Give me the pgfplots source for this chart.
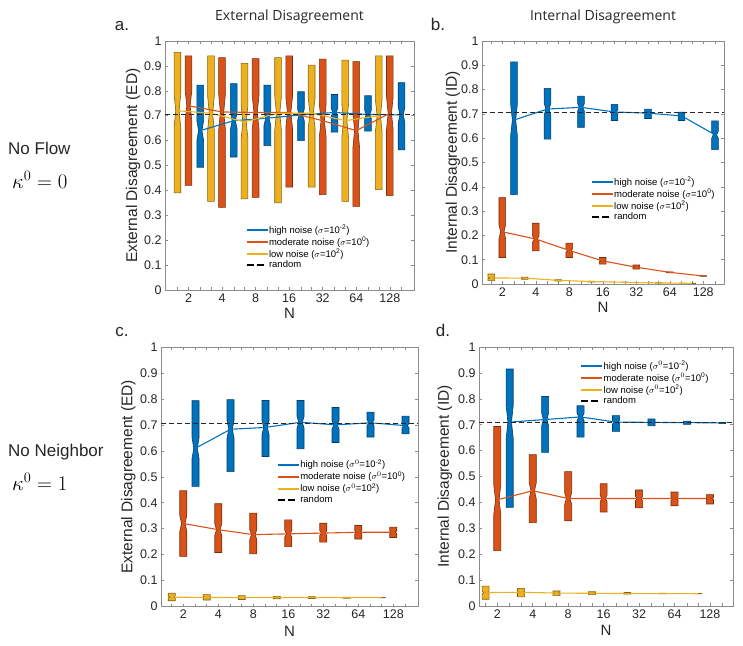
\documentclass[border=0pt]{standalone}
\usepackage{pgfplots}
\pgfplotsset{compat=1.18}
\usepackage{pgfplotstable}
\usepackage{fontspec}
\setmainfont{Liberation Sans}
\newfontfamily\titlefont{Open Sans}

\definecolor{mblue}{RGB}{0,114,189}
\definecolor{morange}{RGB}{217,83,25}
\definecolor{myellow}{RGB}{237,177,32}

\def\bw{0.1}
% notched box: color, x, q1, median, q3
\newcommand\nb[5]{%
 \pgfmathsetmacro\xa{#2-\bw}\pgfmathsetmacro\xb{#2+\bw}%
 \pgfmathsetmacro\xc{#2-0.5*\bw}\pgfmathsetmacro\xd{#2+0.5*\bw}%
 \pgfmathsetmacro\nlo{max(#3,#4-0.12*(#5-#3))}%
 \pgfmathsetmacro\nhi{min(#5,#4+0.12*(#5-#3))}%
 \edef\tmp{\noexpand\addplot[forget plot, fill=#1, draw=#1!55!black, line width=0.6pt] coordinates {(\xa,#3) (\xb,#3) (\xb,\nlo) (\xd,#4) (\xb,\nhi) (\xb,#5) (\xa,#5) (\xa,\nhi) (\xc,#4) (\xa,\nlo)} -- cycle;}%
 \tmp}
\newcommand\drawboxes[2]{%
 \pgfplotstablegetrowsof{#1}%
 \pgfmathtruncatemacro\nrows{\pgfplotsretval-1}%
 \pgfplotsforeachungrouped \r in {0,...,\nrows}{%
   \pgfplotstablegetelem{\r}{x}\of#1\let\vx\pgfplotsretval
   \pgfplotstablegetelem{\r}{q1}\of#1\let\vq\pgfplotsretval
   \pgfplotstablegetelem{\r}{med}\of#1\let\vm\pgfplotsretval
   \pgfplotstablegetelem{\r}{q3}\of#1\let\vt\pgfplotsretval
   \nb{#2}{\vx}{\vq}{\vm}{\vt}%
 }}

% ---------------- data: x q1 median q3 ----------------
\pgfplotstableread{
x q1 med q3
0.67 0.390 0.720 0.954
1.67 0.356 0.710 0.940
2.67 0.366 0.675 0.910
3.67 0.350 0.710 0.933
4.67 0.413 0.710 0.903
5.67 0.356 0.680 0.923
6.67 0.403 0.700 0.940
}\aY
\pgfplotstableread{
x q1 med q3
1 0.420 0.740 0.940
2 0.332 0.715 0.933
3 0.372 0.713 0.929
4 0.413 0.713 0.940
5 0.383 0.680 0.927
6 0.336 0.640 0.917
7 0.379 0.710 0.940
}\aO
\pgfplotstableread{
x q1 med q3
1.35 0.493 0.640 0.823
2.35 0.534 0.680 0.829
3.35 0.580 0.690 0.823
4.35 0.600 0.703 0.796
5.35 0.634 0.713 0.785
6.35 0.638 0.705 0.780
7.35 0.563 0.703 0.833
}\aB
\pgfplotstableread{
x q1 med q3
0.67 0.014 0.025 0.041
1.67 0.019 0.024 0.028
2.67 0.012 0.015 0.018
3.67 0.008 0.010 0.012
4.67 0.006 0.007 0.008
5.67 0.004 0.0045 0.005
6.67 0.002 0.0025 0.003
}\bY
\pgfplotstableread{
x q1 med q3
1 0.109 0.215 0.355
2 0.136 0.185 0.250
3 0.109 0.138 0.168
4 0.082 0.095 0.109
5 0.061 0.069 0.078
6 0.046 0.048 0.050
7 0.032 0.033 0.034
}\bO
\pgfplotstableread{
x q1 med q3
1.35 0.368 0.675 0.914
2.35 0.596 0.720 0.805
3.35 0.645 0.727 0.773
4.35 0.673 0.708 0.739
5.35 0.681 0.703 0.719
6.35 0.673 0.692 0.707
7.35 0.553 0.614 0.671
}\bB
\pgfplotstableread{
x q1 med q3
0.67 0.022 0.036 0.051
1.67 0.025 0.035 0.046
2.67 0.027 0.034 0.042
3.67 0.030 0.034 0.039
4.67 0.031 0.034 0.038
5.67 0.032 0.034 0.036
6.67 0.033 0.034 0.035
}\cY
\pgfplotstableread{
x q1 med q3
1 0.193 0.320 0.446
2 0.208 0.296 0.396
3 0.203 0.277 0.360
4 0.231 0.280 0.334
5 0.248 0.283 0.321
6 0.260 0.286 0.312
7 0.266 0.286 0.306
}\cO
\pgfplotstableread{
x q1 med q3
1.35 0.463 0.610 0.793
2.35 0.520 0.683 0.797
3.35 0.578 0.690 0.794
4.35 0.608 0.710 0.794
5.35 0.632 0.700 0.767
6.35 0.653 0.708 0.749
7.35 0.665 0.697 0.733
}\cB
\pgfplotstableread{
x q1 med q3
0.67 0.026 0.052 0.077
1.67 0.035 0.053 0.068
2.67 0.040 0.050 0.058
3.67 0.044 0.049 0.055
4.67 0.046 0.048 0.052
5.67 0.047 0.048 0.050
6.67 0.047 0.048 0.049
}\dY
\pgfplotstableread{
x q1 med q3
1 0.214 0.410 0.693
2 0.322 0.445 0.584
3 0.329 0.415 0.519
4 0.363 0.415 0.472
5 0.379 0.415 0.448
6 0.387 0.415 0.440
7 0.394 0.415 0.430
}\dO
\pgfplotstableread{
x q1 med q3
1.35 0.381 0.710 0.915
2.35 0.593 0.720 0.809
3.35 0.652 0.730 0.773
4.35 0.674 0.710 0.735
5.35 0.696 0.709 0.722
6.35 0.701 0.708 0.714
7.35 0.704 0.707 0.709
}\dB

\pgfplotsset{
  lblue/.style={mblue, line width=1.1pt},
  lorange/.style={morange, line width=1.1pt},
  lyellow/.style={myellow, line width=1.1pt},
  lrand/.style={black!85, line width=0.75pt, dash pattern=on 5pt off 3pt},
}
\pgfplotsset{panel/.style={
  scale only axis, ymin=0, ymax=1,
  ytick={0,0.1,0.2,0.3,0.4,0.5,0.6,0.7,0.8,0.9,1},
  xtick={1,2,3,4,5,6,7}, xticklabels={2,4,8,16,32,64,128},
  minor xtick={0.67,1.35,1.67,2.35,2.67,3.35,3.67,4.35,4.67,5.35,5.67,6.35,6.67,7.35},
  tick align=inside, major tick length=3pt, minor tick length=3pt,
  axis line style={black!45}, tick style={black!45, line width=0.5pt},
  ticklabel style={font=\fontsize{12.5}{13}\selectfont, text=black!85},
  /pgf/number format/assume math mode=true,
  xlabel={N},
  xlabel style={at={(axis description cs:0.5,-0.095)}, anchor=center, font=\fontsize{15}{15}\selectfont, text=black!85},
  ylabel style={anchor=center, font=\fontsize{15.5}{16}\selectfont, text=black!85},
  legend style={draw=none, fill=none, font=\fontsize{9.5}{10}\selectfont, anchor=north west, inner sep=0pt, row sep=-2pt},
  legend cell align=left,
}}

% legend entries with filled-bar images
\newcommand\legendset[1]{%
  \addlegendimage{legend image code/.code={\fill[mblue] (0pt,-0.7pt) rectangle (20pt,0.7pt);}}
  \addlegendentry{high noise ($\sigma#1$=10\textsuperscript{-2})}
  \addlegendimage{legend image code/.code={\fill[morange] (0pt,-0.7pt) rectangle (20pt,0.7pt);}}
  \addlegendentry{moderate noise ($\sigma#1$=10\textsuperscript{0})}
  \addlegendimage{legend image code/.code={\fill[myellow] (0pt,-0.7pt) rectangle (20pt,0.7pt);}}
  \addlegendentry{low noise ($\sigma#1$=10\textsuperscript{2})}
  \addlegendimage{legend image code/.code={\fill[black] (0pt,-0.5pt) rectangle (6pt,0.5pt) (10pt,-0.5pt) rectangle (16pt,0.5pt);}}
  \addlegendentry{random}}

\begin{document}
\begin{tikzpicture}
\useasboundingbox (0pt,0pt) rectangle (743pt,645pt);

% ---------- panel a ----------
\begin{axis}[panel, at={(165pt,355pt)}, anchor=south west, width=249pt, height=249pt,
  xmin=0.3, xmax=7.72, ylabel={External Disagreement (ED)},
  ylabel style={at={(axis description cs:-0.128,0.5)}},
  legend style={at={(0.327,0.27)}}]
\legendset{}
\drawboxes{\aY}{myellow}
\drawboxes{\aO}{morange}
\drawboxes{\aB}{mblue}
\addplot[lblue, forget plot] table[x=x,y=med]{\aB};
\addplot[lorange, forget plot] table[x=x,y=med]{\aO};
\addplot[lyellow, forget plot] table[x=x,y=med]{\aY};
\addplot[lrand, forget plot] coordinates {(0.3,0.7071) (7.72,0.7071)};
\end{axis}

% ---------- panel b ----------
\begin{axis}[panel, at={(482pt,361pt)}, anchor=south west, width=242pt, height=243pt,
  xmin=0.394, xmax=7.62, ylabel={Internal Disagreement (ID)},
  ylabel style={at={(axis description cs:-0.12,0.5)}},
  legend style={at={(0.453,0.45)}}]
\legendset{}
\drawboxes{\bY}{myellow}
\drawboxes{\bO}{morange}
\drawboxes{\bB}{mblue}
\addplot[lblue, forget plot] table[x=x,y=med]{\bB};
\addplot[lorange, forget plot] table[x=x,y=med]{\bO};
\addplot[lyellow, forget plot] table[x=x,y=med]{\bY};
\addplot[lrand, forget plot] coordinates {(0.394,0.7071) (7.62,0.7071)};
\end{axis}

% ---------- panel c ----------
\begin{axis}[panel, at={(161pt,38.5pt)}, anchor=south west, width=257pt, height=259.5pt,
  xmin=0.363, xmax=7.706, ylabel={External Disagreement (ED)},
  ylabel style={at={(axis description cs:-0.127,0.5)}},
  legend style={at={(0.454,0.575)}}]
\legendset{^0}
\drawboxes{\cY}{myellow}
\drawboxes{\cO}{morange}
\drawboxes{\cB}{mblue}
\addplot[lblue, forget plot] table[x=x,y=med]{\cB};
\addplot[lorange, forget plot] table[x=x,y=med]{\cO};
\addplot[lyellow, forget plot] table[x=x,y=med]{\cY};
\addplot[lrand, forget plot] coordinates {(0.363,0.7071) (7.706,0.7071)};
\end{axis}

% ---------- panel d ----------
\begin{axis}[panel, at={(479pt,39pt)}, anchor=south west, width=254pt, height=259pt,
  xmin=0.484, xmax=7.65, ylabel={Internal Disagreement (ID)},
  ylabel style={at={(axis description cs:-0.134,0.5)}},
  legend style={at={(0.402,0.955)}}]
\legendset{^0}
\drawboxes{\dY}{myellow}
\drawboxes{\dO}{morange}
\drawboxes{\dB}{mblue}
\addplot[lblue, forget plot] table[x=x,y=med]{\dB};
\addplot[lorange, forget plot] table[x=x,y=med]{\dO};
\addplot[lyellow, forget plot] table[x=x,y=med]{\dY};
\addplot[lrand, forget plot] coordinates {(0.484,0.7071) (7.65,0.7071)};
\end{axis}

% ---------- titles and labels ----------
\node[font=\titlefont\fontsize{14}{14}\selectfont, text=black!85] at (289.5pt,628pt) {External Disagreement};
\node[font=\titlefont\fontsize{14}{14}\selectfont, text=black!85] at (603pt,628pt) {Internal Disagreement};
\node[font=\fontsize{17}{17}\selectfont, text=black!85] at (122pt,619pt) {a.};
\node[font=\fontsize{17}{17}\selectfont, text=black!85] at (438pt,621pt) {b.};
\node[font=\fontsize{17}{17}\selectfont, text=black!85] at (122pt,313pt) {c.};
\node[font=\fontsize{17}{17}\selectfont, text=black!85] at (443pt,315pt) {d.};
\node[anchor=west, font=\fontsize{17}{17}\selectfont, text=black!85, inner sep=0pt] at (8pt,497pt) {No Flow};
\node[anchor=west, font=\fontsize{22}{22}\selectfont, inner sep=0pt] at (12pt,465pt) {$\kappa^0=0$};
\node[anchor=west, font=\fontsize{17}{17}\selectfont, text=black!85, inner sep=0pt] at (8pt,193pt) {No Neighbor};
\node[anchor=west, font=\fontsize{22}{22}\selectfont, inner sep=0pt] at (12pt,163pt) {$\kappa^0=1$};
\end{tikzpicture}
\end{document}
